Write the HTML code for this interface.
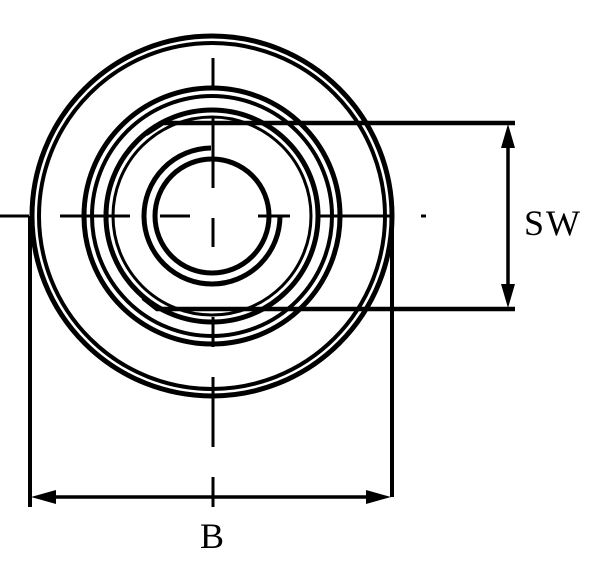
<!DOCTYPE html>
<html><head><style>html,body{margin:0;padding:0;background:#fff}</style></head>
<body>
<svg width="600" height="562" viewBox="0 0 600 562" xmlns="http://www.w3.org/2000/svg">
<g fill="none" stroke="#000">
<circle cx="212" cy="216" r="180" stroke-width="5"/>
<circle cx="212" cy="216" r="173" stroke-width="4"/>
<circle cx="212" cy="216" r="128" stroke-width="5"/>
<circle cx="212" cy="216" r="120" stroke-width="4"/>
<circle cx="212" cy="216" r="106" stroke-width="5"/>
<circle cx="212" cy="216" r="99" stroke-width="3"/>
<circle cx="212" cy="216" r="57" stroke-width="5"/>
<path d="M211 148 A68 68 0 1 0 280 216" stroke-width="5"/>
<path d="M146 134 L163 123 L515 123 M143 298 L157 309 L515 309" stroke-width="4.5"/>
<g stroke-width="3">
<path d="M213 58V88 M213 118V188 M213 218V247 M213 317V347 M213 377V447 M213 477V507"/>
<path d="M0 216H29 M60 216H130 M160 216H190 M258 216H290 M320 216H390 M421 216H426"/>
</g>
<path d="M30 216V507 M392 216V497" stroke-width="4"/>
<path d="M40 497H382 M508 133V299" stroke-width="3.5"/>
</g>
<g fill="#000">
<polygon points="31,497 56,490 56,504"/>
<polygon points="391,497 366,490 366,504"/>
<polygon points="508,124 501,148 515,148"/>
<polygon points="508,308 501,284 515,284"/>
</g>
<text x="212" y="548" font-family="Liberation Serif, serif" font-size="36" text-anchor="middle">B</text>
<text x="553" y="235" font-family="Liberation Serif, serif" font-size="36" text-anchor="middle" letter-spacing="2">SW</text>
</svg>
</body></html>
